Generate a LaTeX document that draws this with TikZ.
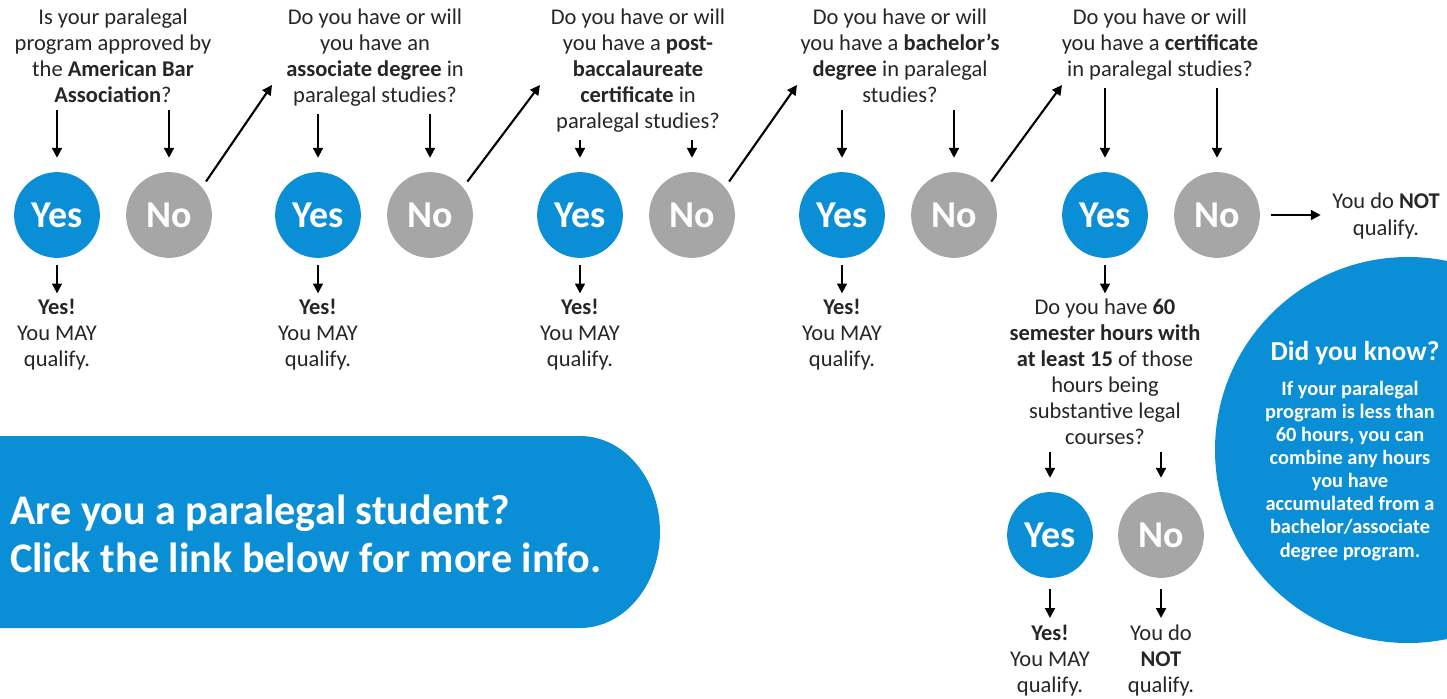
\documentclass[tikz,border=0pt]{standalone}
\usepackage{fontspec}
\setmainfont{Carlito}
\usetikzlibrary{arrows.meta}
\definecolor{askblue}{RGB}{10,142,214}
\definecolor{askgray}{RGB}{166,166,166}
\definecolor{ink}{RGB}{38,38,38}

\begin{document}
\begin{tikzpicture}[x=0.025cm,y=-0.025cm,
  yesdot/.style={circle,fill=askblue,minimum size=61pt,inner sep=0pt,text=white,font=\fontsize{27}{28}\selectfont\bfseries},
  nodot/.style={yesdot,fill=askgray},
  ask/.style={align=center,inner sep=0pt,text=ink,font=\fontsize{16}{18.5}\selectfont},
  arr/.style={-{Triangle[length=7pt,width=7pt]},line width=1.5pt,black},
  dnarr/.style={arr,shorten <=5pt,shorten >=10pt}]
\useasboundingbox (0,0) rectangle (1447,698);
\fill[askblue] (1408,450) circle[radius=193];
\fill[askblue] (0,436) -- (580,436) arc[start angle=-90,end angle=90,x radius=80,y radius=96] -- (0,628) -- cycle;
\node[ask,anchor=north] (q1) at (113,9) {Is your paralegal\\program approved by\\the \textbf{American Bar}\\\textbf{Association}?};
\node[ask,anchor=north] (q2) at (375,9) {Do you have or will\\you have an\\\textbf{associate degree} in\\paralegal studies?};
\node[ask,anchor=north] (q3) at (638,9) {Do you have or will\\you have a \textbf{post-}\\\textbf{baccalaureate}\\\textbf{certificate} in\\paralegal studies?};
\node[ask,anchor=north] (q4) at (900,9) {Do you have or will\\you have a \textbf{bachelor’s}\\\textbf{degree} in paralegal\\studies?};
\node[ask,anchor=north] (q5) at (1160,9) {Do you have or will\\you have a \textbf{certificate}\\in paralegal studies?};
\foreach \i/\x in {1/57,2/318,3/580,4/842,5/1105}{
  \node[yesdot] (y\i) at (\x,215) {Yes};
  \node[nodot] (n\i) at (\x+112,215) {No};
  \draw[dnarr] (q\i.south -| y\i) -- (y\i);
  \draw[dnarr] (q\i.south -| n\i) -- (n\i);
}
\foreach \i in {1,...,4}{
  \node[ask,anchor=north] (m\i) at (y\i |- 0,299) {\textbf{Yes!}\\You MAY\\qualify.};
  \draw[arr,shorten <=5pt,shorten >=4pt] (y\i) -- (m\i);
}
\coordinate (t2) at (272,85);
\coordinate (t3) at (540,85);
\coordinate (t4) at (797,85);
\coordinate (t5) at (1062,85);
\foreach \i/\j in {1/2,2/3,3/4,4/5}
  \draw[arr,shorten <=5pt] (n\i.40) -- (t\j);
\node[ask] (nq) at (1386,216) {You do \textbf{NOT}\\qualify.};
\draw[arr,shorten <=8pt,shorten >=8pt] (n5) -- (n5 -| nq.west);
\node[ask,anchor=north] (q6) at (1105,299) {Do you have \textbf{60}\\\textbf{semester hours with}\\\textbf{at least 15} of those\\hours being\\substantive legal\\courses?};
\draw[arr,shorten <=5pt,shorten >=4pt] (y5) -- (q6);
\node[yesdot] (y6) at (1050,535) {Yes};
\node[nodot] (n6) at (1161,535) {No};
\draw[dnarr] (q6.south -| y6) -- (y6);
\draw[dnarr] (q6.south -| n6) -- (n6);
\node[ask,anchor=north] (m6) at (1050,625) {\textbf{Yes!}\\You MAY\\qualify.};
\node[ask,anchor=north] (m7) at (1161,625) {You do\\\textbf{NOT}\\qualify.};
\draw[arr,shorten <=8pt,shorten >=5pt] (y6) -- (m6);
\draw[arr,shorten <=8pt,shorten >=5pt] (n6) -- (m7);
\node[text=white,font=\fontsize{19.5}{22}\selectfont\bfseries] (dk) at (1355,353) {Did you know?};
\node[anchor=north,align=center,inner sep=0pt,text=white,font=\fontsize{14.5}{16.4}\selectfont\bfseries] (dkt) at (1350,381) {If your paralegal\\program is less than\\60 hours, you can\\combine any hours\\you have\\accumulated from a\\bachelor/associate\\degree program.};
\node[anchor=west,align=left,inner sep=0pt,text=white,font=\fontsize{30}{34}\selectfont\bfseries] (ban) at (10,534) {Are you a paralegal student?\\Click the link below for more info.};
\end{tikzpicture}
\end{document}
